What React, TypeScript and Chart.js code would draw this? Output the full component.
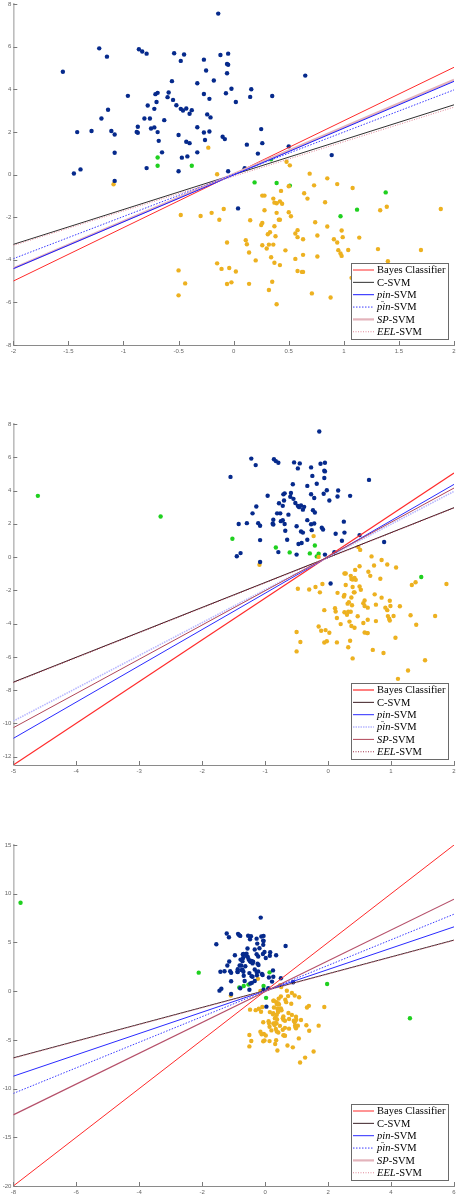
import React, { useEffect, useRef } from "react";
import { Chart, registerables } from "chart.js";
Chart.register(...registerables);

// ---------- data ----------
const blueX = [-0.14,-1.22,-1.15,-0.86,-0.83,-0.79,-0.54,-0.45,-0.48,-0.27,-0.12,-0.05,-0.06,-0.05,-0.25,-0.06,-1.55,0.65,-0.18,-0.56,-0.33,-0.02,0.16,-0.07,-0.27,-0.59,-0.69,-0.71,-0.96,-0.60,-0.22,0.15,0.35,-0.55,-0.70,0.02,-0.78,-0.52,-0.72,-1.14,-0.48,-0.46,-0.43,-0.38,-0.40,-0.24,-0.21,-1.20,-0.81,-0.76,-0.63,-0.33,-0.87,-0.75,-0.72,-1.29,-1.42,-1.11,-0.88,-0.87,-0.69,-0.27,-0.22,-1.08,-0.50,0.25,-0.10,-0.08,-0.68,-0.43,-0.40,-0.26,0.26,0.12,0.50,-1.08,-0.65,-0.33,-0.42,-0.47,0.22,0.89,-0.79,0.10,-1.45,-1.39,-0.50,-0.05,-1.08,0.04];
const blueY = [7.55,5.92,5.53,5.88,5.77,5.67,5.69,5.63,5.33,5.39,5.61,5.67,5.19,5.15,4.88,4.75,4.82,4.64,4.41,4.38,4.28,4.02,4.00,3.81,3.78,3.85,3.83,3.77,3.69,3.63,3.55,3.64,3.68,3.50,3.40,3.40,3.24,3.25,3.08,3.04,3.08,3.00,3.10,3.02,2.85,2.82,2.68,2.63,2.63,2.63,2.55,2.22,2.24,2.16,2.21,2.04,1.99,2.04,2.00,1.96,1.99,1.97,2.02,1.88,1.85,2.13,1.77,1.66,1.58,1.54,1.47,1.62,1.47,1.40,1.32,1.02,1.04,1.04,0.85,0.79,0.98,0.91,0.30,0.29,0.05,0.24,0.15,0.15,-0.30,-1.59];

const orangeX = [-0.23,-1.09,-0.15,0.48,0.51,0.69,0.85,0.94,0.73,1.08,0.50,0.43,0.64,0.67,0.26,0.28,0.36,0.37,0.39,0.42,0.44,0.83,1.39,1.33,1.88,-0.09,0.28,0.39,0.50,0.52,-0.20,-0.30,-0.48,-0.13,0.15,0.26,0.25,0.41,0.42,0.37,0.33,0.31,0.38,0.58,0.56,0.58,0.63,0.74,0.85,0.98,0.76,0.91,0.94,0.99,1.14,0.11,0.12,0.26,0.32,0.36,0.30,-0.06,0.14,0.47,0.34,0.56,0.20,0.37,0.42,-0.15,-0.11,-0.04,0.02,-0.50,-0.44,-0.06,-0.02,0.14,0.35,0.32,-0.50,0.39,0.58,0.62,0.63,0.95,0.97,0.98,1.04,1.31,1.70,1.40,0.76,0.63,1.07,0.71,0.88,1.11,1.27,1.54];
const orangeY = [1.26,-0.46,0.01,0.60,0.43,0.04,-0.18,-0.45,-0.51,-0.63,-0.55,-0.77,-0.88,-1.13,-0.99,-0.99,-1.13,-1.32,-1.35,-1.26,-1.37,-1.30,-1.51,-1.68,-1.62,-1.62,-1.68,-1.80,-1.77,-1.96,-1.80,-1.95,-1.90,-2.12,-2.15,-2.27,-2.37,-2.12,-2.12,-2.43,-2.71,-2.80,-2.90,-2.61,-2.77,-2.94,-3.04,-2.24,-2.44,-2.63,-2.86,-3.04,-3.19,-2.94,-2.96,-3.08,-3.27,-3.32,-3.29,-3.29,-3.47,-3.19,-3.66,-3.56,-3.88,-3.96,-4.03,-4.14,-4.25,-4.17,-4.43,-4.39,-4.55,-4.50,-5.11,-5.14,-5.06,-5.13,-5.03,-5.42,-5.67,-6.09,-4.53,-4.57,-4.57,-3.55,-3.71,-3.82,-3.54,-3.50,-3.54,-4.07,-3.85,-3.77,-4.85,-5.58,-5.77,-7.32,-6.82,-6.20];

const green1X = [-0.69,-0.69,-0.38,0.34,0.19,0.39,0.51,0.97,1.12,1.38];
const green1Y = [0.80,0.41,0.41,0.71,-0.37,-0.40,-0.52,-1.96,-1.65,-0.84];
const green2X = [-4.61,-2.66,-1.52,-0.83,-0.61,-0.29,-0.21,-0.18,-0.15,1.48];
const green2Y = [3.68,2.44,1.10,0.58,0.28,0.22,0.70,0.04,0.20,-1.20];
const green3X = [-7.77,-2.11,0.14,-0.82,-0.68,-0.53,-0.05,0.03,1.97,4.60];
const green3Y = [9.07,1.90,1.93,0.37,0.53,0.67,0.53,-0.69,0.74,-2.78];

const seriesNames = ["Bayes Classifier", "C-SVM", "pin-SVM", "p\u0304in-SVM", "SP-SVM", "EEL-SVM"];

// line values at left / right x-limits
const p1LineLeft = [-5.0, -3.28, -4.42, -3.95, -4.40, -3.33];
const p1LineRight = [5.03, 3.27, 4.37, 3.97, 4.44, 3.16];
const p2LineLeft = [-12.5, -7.52, -10.9, -9.86, -10.26, -7.55];
const p2LineRight = [5.05, 2.97, 4.37, 3.95, 4.15, 2.95];
const p3LineLeft = [-20.0, -6.85, -8.73, -10.5, -12.7, -6.9];
const p3LineRight = [15.0, 5.24, 6.6, 7.9, 9.44, 5.2];

const p1XTicks = [-2, -1.5, -1, -0.5, 0, 0.5, 1, 1.5, 2];
const p1YTicks = [-8, -6, -4, -2, 0, 2, 4, 6, 8];
const p2XTicks = [-5, -4, -3, -2, -1, 0, 1, 2];
const p2YTicks = [-12, -10, -8, -6, -4, -2, 0, 2, 4, 6, 8];
const p3XTicks = [-8, -6, -4, -2, 0, 2, 4, 6];
const p3YTicks = [-20, -15, -10, -5, 0, 5, 10, 15];

// ---------- styles ----------
const BLUE = "#062a8c";
const ORANGE = "#edb120";
const GREEN = "#1fd01f";

type LStyle = { color: string; width: number; dash: number[]; order: number };
const styleA: LStyle[] = [
  { color: "#ff2a2a", width: 1, dash: [], order: 6 },
  { color: "#303030", width: 1, dash: [], order: 5 },
  { color: "#1a1aff", width: 1, dash: [], order: 3 },
  { color: "#3a3aff", width: 1, dash: [1.5, 1.5], order: 2 },
  { color: "#e3b3bb", width: 2.2, dash: [], order: 4 },
  { color: "#e08898", width: 1, dash: [1, 1.5], order: 1 },
];
const styleB: LStyle[] = [
  { color: "#ff2a2a", width: 1.2, dash: [], order: 6 },
  { color: "#3a1c22", width: 1, dash: [], order: 5 },
  { color: "#2a2aff", width: 1, dash: [], order: 4 },
  { color: "#b8b8ff", width: 1.6, dash: [1.5, 1], order: 3 },
  { color: "#b04658", width: 1, dash: [], order: 2 },
  { color: "#a03048", width: 1, dash: [1, 1.5], order: 1 },
];
const styleC: LStyle[] = [
  { color: "#ff2a2a", width: 1, dash: [], order: 6 },
  { color: "#3a2026", width: 1, dash: [], order: 5 },
  { color: "#2a2aff", width: 1, dash: [], order: 4 },
  { color: "#3a3aff", width: 1, dash: [1.5, 1.5], order: 3 },
  { color: "#b5506a", width: 1.2, dash: [], order: 2 },
  { color: "#e08898", width: 1, dash: [1, 1.5], order: 1 },
];
const legendC: LStyle[] = [
  styleC[0], styleC[1], styleC[2], styleC[3],
  { color: "#e3b3bb", width: 2.2, dash: [], order: 2 },
  styleC[5],
];

type Panel = {
  top: number; xMin: number; xMax: number; yMin: number; yMax: number;
  xTicks: number[]; yTicks: number[]; gx: number[]; gy: number[];
  left: number[]; right: number[]; styles: LStyle[]; legend: LStyle[];
};

const panels: Panel[] = [
  { top: 0, xMin: -2, xMax: 2, yMin: -8, yMax: 8, xTicks: p1XTicks, yTicks: p1YTicks, gx: green1X, gy: green1Y, left: p1LineLeft, right: p1LineRight, styles: styleA, legend: styleA },
  { top: 420, xMin: -5, xMax: 2, yMin: -12.5, yMax: 8, xTicks: p2XTicks, yTicks: p2YTicks, gx: green2X, gy: green2Y, left: p2LineLeft, right: p2LineRight, styles: styleB, legend: styleB },
  { top: 840.7, xMin: -8, xMax: 6, yMin: -20, yMax: 15, xTicks: p3XTicks, yTicks: p3YTicks, gx: green3X, gy: green3Y, left: p3LineLeft, right: p3LineRight, styles: styleC, legend: legendC },
];

// legend label parts: [text, italic]
const labelParts: [string, boolean][][] = [
  [["Bayes Classifier", false]],
  [["C-SVM", false]],
  [["pin", true], ["-SVM", false]],
  [["pin", true], ["-SVM", false]],
  [["SP", true], ["-SVM", false]],
  [["EEL", true], ["-SVM", false]],
];

function makePlugin(p: Panel) {
  return {
    id: "matlabDecor",
    afterDatasetsDraw(chart: any) {
      const { ctx, chartArea } = chart;
      const xs = chart.scales.x, ys = chart.scales.y;
      ctx.save();
      ctx.strokeStyle = "#7a7a7a";
      ctx.lineWidth = 1;
      ctx.beginPath();
      p.xTicks.forEach((v) => {
        const px = Math.round(xs.getPixelForValue(v)) + 0.5;
        ctx.moveTo(px, chartArea.bottom);
        ctx.lineTo(px, chartArea.bottom - 4);
      });
      p.yTicks.forEach((v) => {
        const py = Math.round(ys.getPixelForValue(v)) + 0.5;
        ctx.moveTo(chartArea.left, py);
        ctx.lineTo(chartArea.left + 4, py);
      });
      ctx.stroke();
      ctx.restore();
    },
    afterDraw(chart: any) {
      const { ctx, chartArea } = chart;
      const bw = 97, bh = 76;
      const bx = chartArea.right - 6 - bw;
      const by = chartArea.bottom - 6 - bh;
      ctx.save();
      ctx.fillStyle = "#ffffff";
      ctx.fillRect(bx, by, bw, bh);
      ctx.strokeStyle = "#6a6a6a";
      ctx.lineWidth = 1;
      ctx.strokeRect(Math.round(bx) + 0.5, Math.round(by) + 0.5, bw, bh);
      for (let i = 0; i < 6; i++) {
        const cy = by + 7 + i * 12.35;
        const st = p.legend[i];
        ctx.beginPath();
        ctx.strokeStyle = st.color;
        ctx.lineWidth = st.width;
        ctx.setLineDash(st.dash);
        ctx.moveTo(bx + 2, cy);
        ctx.lineTo(bx + 23, cy);
        ctx.stroke();
        ctx.setLineDash([]);
        let tx = bx + 26;
        ctx.fillStyle = "#000";
        ctx.textBaseline = "middle";
        labelParts[i].forEach(([txt, it]) => {
          ctx.font = (it ? "italic " : "") + '10.5px "Liberation Serif", serif';
          ctx.fillText(txt, tx, cy + 0.5);
          const w = ctx.measureText(txt).width;
          if (i === 3 && it) {
            ctx.beginPath();
            ctx.strokeStyle = "#777";
            ctx.lineWidth = 0.8;
            ctx.moveTo(tx + 4, cy - 5.5);
            ctx.lineTo(tx + 7, cy - 5.5);
            ctx.stroke();
          }
          tx += w;
        });
      }
      ctx.restore();
    },
  };
}

function PanelChart({ p }: { p: Panel }) {
  const ref = useRef<HTMLCanvasElement>(null);
  useEffect(() => {
    if (!ref.current) return;
    const pts = (xs: number[], ys: number[]) => xs.map((x, i) => ({ x, y: ys[i] }));
    const lineSets = seriesNames.map((name, i) => ({
      label: name,
      data: [{ x: p.xMin, y: p.left[i] }, { x: p.xMax, y: p.right[i] }],
      showLine: true,
      borderColor: p.styles[i].color,
      borderWidth: p.styles[i].width,
      borderDash: p.styles[i].dash,
      pointRadius: 0,
      fill: false,
      order: p.styles[i].order,
    }));
    const dotSet = (label: string, xs: number[], ys: number[], color: string) => ({
      label,
      data: pts(xs, ys),
      backgroundColor: color,
      borderColor: color,
      borderWidth: 0,
      pointRadius: 2.2,
      order: 20,
    });
    const tickFont = { family: '"Liberation Sans", Arial, sans-serif', size: 6 };
    const chart = new Chart(ref.current, {
      type: "scatter",
      data: {
        datasets: [
          dotSet("class +1", blueX, blueY, BLUE),
          dotSet("class -1", orangeX, orangeY, ORANGE),
          dotSet("noise", p.gx, p.gy, GREEN),
          ...lineSets,
        ] as any,
      },
      options: {
        responsive: false,
        animation: false,
        devicePixelRatio: 1,
        layout: { padding: { top: 3.3, left: 0.3, right: 1, bottom: 1 } },
        plugins: { legend: { display: false }, tooltip: { enabled: false } },
        scales: {
          x: {
            type: "linear",
            min: p.xMin,
            max: p.xMax,
            afterBuildTicks: (s: any) => { s.ticks = p.xTicks.map((v) => ({ value: v })); },
            afterFit: (s: any) => { s.height = 12; s.paddingLeft = 0; s.paddingRight = 0; },
            grid: { display: false, drawTicks: false },
            border: { display: true, color: "#8a8a8a", width: 1 },
            ticks: { autoSkip: false, maxRotation: 0, padding: 3, font: tickFont, color: "#666", callback: (v: any) => String(v) },
          },
          y: {
            type: "linear",
            min: p.yMin,
            max: p.yMax,
            afterBuildTicks: (s: any) => { s.ticks = p.yTicks.map((v) => ({ value: v })); },
            afterFit: (s: any) => { s.width = 13; s.paddingTop = 0; s.paddingBottom = 0; },
            grid: { display: false, drawTicks: false },
            border: { display: true, color: "#bdbdbd", width: 1.6 },
            ticks: { autoSkip: false, padding: 2, font: tickFont, color: "#666", callback: (v: any) => String(v) },
          },
        },
      } as any,
      plugins: [makePlugin(p)],
    });
    return () => chart.destroy();
  }, [p]);
  return (
    <canvas
      ref={ref}
      width={458}
      height={358}
      style={{ position: "absolute", left: 0, top: p.top, width: 458, height: 358 }}
    />
  );
}

export default function App() {
  return (
    <div style={{ position: "absolute", left: 0, top: 0, width: 458, height: 1196, overflow: "hidden", background: "#fff" }}>
      {panels.map((p, i) => (
        <PanelChart key={i} p={p} />
      ))}
    </div>
  );
}
